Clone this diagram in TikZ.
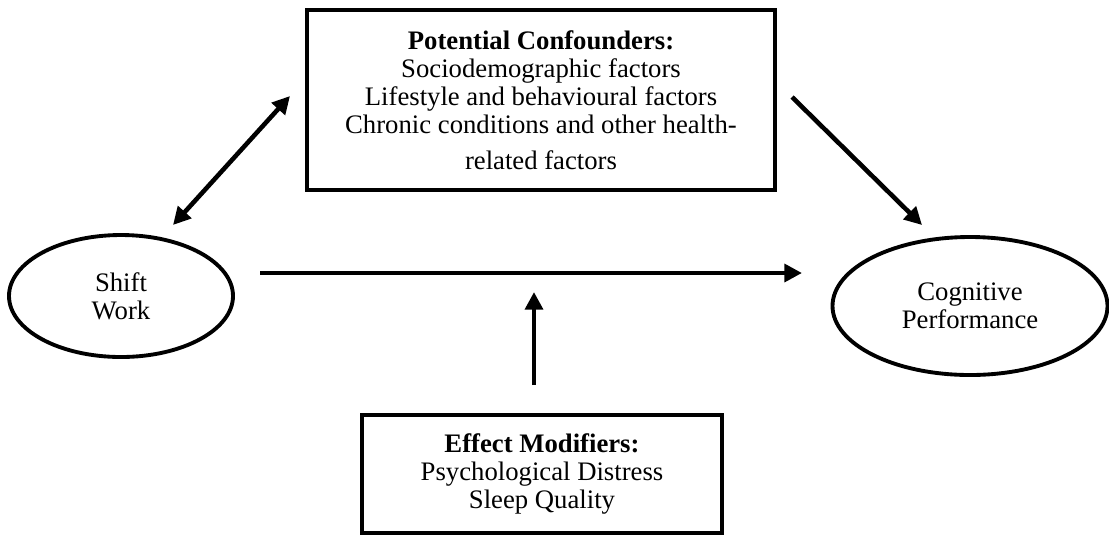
\documentclass[tikz,border=0pt]{standalone}
\usepackage{fontspec}
\setmainfont{Liberation Serif}
\usetikzlibrary{shapes.geometric,arrows.meta}
\begin{document}
\begin{tikzpicture}
[box/.style={draw, line width=2.4pt, align=center, inner sep=0pt, font=\fontsize{15.2}{16}\selectfont},
 oval/.style={ellipse, draw, line width=2.2pt, align=center, inner sep=0pt, font=\fontsize{15.2}{16}\selectfont},
 >={Triangle[length=10pt,width=10pt]}, line width=2.6pt]
\useasboundingbox (0,0) rectangle (22.18,-10.70);

\node (conf) at (10.82,-2.00) [box, minimum width=9.36cm, minimum height=3.60cm] {\textbf{Potential Confounders:}\\Sociodemographic factors\\Lifestyle and behavioural factors\\Chronic conditions and other health-\\[4pt]related factors};
\node (shift) at (2.42,-5.92) [oval, minimum width=4.48cm, minimum height=2.44cm] {Shift\\Work};
\node (cogn) at (19.40,-6.12) [oval, minimum width=5.50cm, minimum height=2.76cm] {Cognitive\\Performance};
\node (modif) at (10.84,-9.48) [box, minimum width=7.20cm, minimum height=2.36cm] {\textbf{Effect Modifiers:}\\Psychological Distress\\Sleep Quality};

\coordinate (a1) at (3.46,-4.50);
\coordinate (a2) at (5.80,-1.92);
\coordinate (b1) at (15.84,-1.94);
\coordinate (b2) at (18.44,-4.50);
\coordinate (c1) at (5.20,-5.46);
\coordinate (c2) at (16.04,-5.46);
\coordinate (d1) at (10.68,-7.70);
\coordinate (d2) at (10.68,-5.84);
\draw[<->] (a1) -- (a2);
\draw[->] (b1) -- (b2);
\draw[->] (c1) -- (c2);
\draw[->] (d1) -- (d2);
\end{tikzpicture}
\end{document}
